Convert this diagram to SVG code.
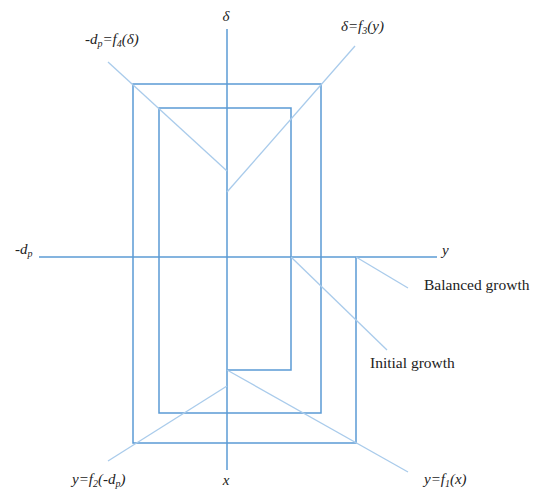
<svg xmlns="http://www.w3.org/2000/svg" width="543" height="490" viewBox="0 0 543 490">
<style>
.ax{stroke:#5b9bd5;stroke-width:1.5;fill:none}
.dg{stroke:#a9cbeb;stroke-width:1.3;fill:none}
text{font-family:"Liberation Serif","Times New Roman",serif;fill:#222}
.lb{font-size:15.5px}
.it{font-size:15px;font-style:italic}
.sb{font-size:10px}
</style>
<rect width="543" height="490" fill="#fff"/>
<g id="connectors">
<line class="ax" x1="227" y1="29" x2="227" y2="470"/>
<line class="ax" x1="39" y1="257" x2="437" y2="257"/>
<polyline class="ax" points="227,370 291,370 291,108 159,108 159,413 321,413 321,84 133,84 133,443 356,443 356,257"/>
<line class="dg" x1="108" y1="62" x2="227" y2="171"/>
<line class="dg" x1="355" y1="46" x2="227" y2="192"/>
<line class="dg" x1="291" y1="257" x2="387" y2="350"/>
<line class="dg" x1="356" y1="257" x2="408" y2="288"/>
<line class="dg" x1="227" y1="370" x2="408" y2="472"/>
<line class="dg" x1="227" y1="386" x2="108" y2="461"/>
</g>
<g id="label-delta"><text class="it" x="226" y="21" text-anchor="middle">δ</text></g>
<g id="label-f4"><text class="it" x="85" y="44">-d<tspan class="sb" dy="3">p</tspan><tspan dy="-3">=f</tspan><tspan class="sb" dy="3">4</tspan><tspan dy="-3">(δ)</tspan></text></g>
<g id="label-f3"><text class="it" x="341" y="31">δ=f<tspan class="sb" dy="3">3</tspan><tspan dy="-3">(y)</tspan></text></g>
<g id="label-dp"><text class="it" x="15" y="254">-d<tspan class="sb" dy="3">p</tspan></text></g>
<g id="label-y"><text class="it" x="442" y="255">y</text></g>
<g id="label-balanced"><text class="lb" x="424" y="290">Balanced growth</text></g>
<g id="label-initial"><text class="lb" x="370" y="368">Initial growth</text></g>
<g id="label-f2"><text class="it" x="72" y="484">y=f<tspan class="sb" dy="3">2</tspan><tspan dy="-3">(-d</tspan><tspan class="sb" dy="3">p</tspan><tspan dy="-3">)</tspan></text></g>
<g id="label-x"><text class="it" x="226" y="485" text-anchor="middle">x</text></g>
<g id="label-f1"><text class="it" x="424" y="484">y=f<tspan class="sb" dy="3">1</tspan><tspan dy="-3">(x)</tspan></text></g>
</svg>
